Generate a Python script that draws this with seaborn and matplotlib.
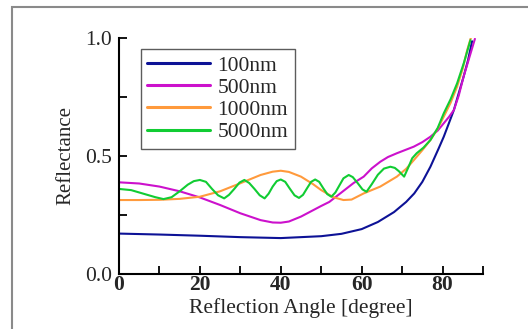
import numpy as np
import pandas as pd
import matplotlib
matplotlib.use("Agg")
import matplotlib.pyplot as plt
from matplotlib.patches import Rectangle
import seaborn as sns

# ---- data ----
x_100 = [0, 10, 20, 30, 40, 50, 55, 60, 64, 68, 71, 73, 75, 77, 79, 80.3, 81.5, 82.8, 84, 85.2, 86.3, 87.3]
r_100 = [0.171, 0.167, 0.162, 0.156, 0.152, 0.160, 0.170, 0.190, 0.220, 0.262, 0.305, 0.341, 0.390, 0.454, 0.530, 0.581, 0.635, 0.694, 0.765, 0.835, 0.905, 0.985]

x_500 = [0, 5, 10, 15, 20, 25, 30, 35, 38, 40, 42, 45, 48, 50, 52, 55, 58, 60.5, 62.5, 64.6, 66.5, 68.7, 70.8, 72.9, 75, 77, 78.8, 80.3, 81.6, 82.8, 84, 85.2, 86.6, 88]
r_500 = [0.388, 0.383, 0.370, 0.350, 0.324, 0.292, 0.257, 0.228, 0.218, 0.217, 0.222, 0.243, 0.270, 0.288, 0.305, 0.345, 0.385, 0.412, 0.447, 0.475, 0.495, 0.511, 0.525, 0.539, 0.558, 0.581, 0.607, 0.638, 0.665, 0.694, 0.755, 0.835, 0.915, 0.995]

x_1000 = [0, 5, 10, 15, 20, 25, 30, 35, 38, 40, 42, 45, 48, 50, 53, 55.5, 57.5, 60.5, 64.6, 68.7, 71, 72.9, 75, 77, 78.8, 80.3, 82, 83.6, 85, 86.1, 87]
r_1000 = [0.313, 0.313, 0.314, 0.318, 0.327, 0.350, 0.384, 0.419, 0.433, 0.437, 0.432, 0.412, 0.380, 0.355, 0.325, 0.313, 0.315, 0.341, 0.370, 0.412, 0.445, 0.482, 0.524, 0.567, 0.615, 0.666, 0.725, 0.793, 0.870, 0.948, 1.0]

x_5000 = [0, 3, 6, 9, 11, 13, 15, 17, 18.5, 20, 21.5, 23, 24.5, 26, 27.2, 28.5, 29.8, 31,
          32.2, 33.5, 34.8, 36, 37, 38, 39, 40, 41.1, 42.2, 43.4, 44.5, 45.5, 46.5, 47.5, 48.5,
          49.5, 50.5, 51.5, 52.5, 53.5, 54.5, 55.5, 56.8, 57.8, 59, 60.2, 61.2, 62.5, 64, 65.5,
          67.1, 68.2, 69.2, 70.5, 71.5, 72.5, 73.6, 75.3, 77, 78.8, 80.3, 82, 83.6, 85.3, 86.9]
r_5000 = [0.360, 0.355, 0.340, 0.325, 0.317, 0.325, 0.350, 0.378, 0.393, 0.398, 0.390, 0.360, 0.333, 0.320, 0.335, 0.360, 0.387, 0.398,
          0.385, 0.360, 0.333, 0.320, 0.340, 0.370, 0.393, 0.400, 0.390, 0.362, 0.333, 0.322, 0.335, 0.363, 0.390, 0.400,
          0.390, 0.363, 0.338, 0.327, 0.345, 0.375, 0.405, 0.419, 0.410, 0.385, 0.358, 0.348, 0.380, 0.420, 0.446,
          0.454, 0.449, 0.435, 0.412, 0.450, 0.490, 0.511, 0.535, 0.567, 0.618, 0.680, 0.740, 0.807, 0.895, 0.990]

labels = ["100nm", "500nm", "1000nm", "5000nm"]
colors = ["#0d1296", "#cc11cc", "#ff9a3c", "#11cc33"]

xs = [x_100, x_500, x_1000, x_5000]
rs = [r_100, r_500, r_1000, r_5000]
df = pd.concat([pd.DataFrame({"angle": x, "refl": r, "film": lab}) for x, r, lab in zip(xs, rs, labels)],
               ignore_index=True)

# ---- style ----
sns.set_style("ticks")
plt.rcParams["font.family"] = ["Liberation Serif", "DejaVu Serif"]

fig = plt.figure(figsize=(5.28, 3.29), dpi=100)
ax = fig.add_axes([119/528, 1-274/329, (483-119)/528, (274-37.7)/329])

sns.lineplot(data=df, x="angle", y="refl", hue="film", hue_order=labels,
             palette=colors, estimator=None, sort=False, linewidth=1.5, ax=ax)

ax.set_xlim(0, 90)
ax.set_ylim(0, 1.0)
ax.set_xticks([0, 20, 40, 60, 80])
ax.set_xticks(np.arange(0, 91, 10), minor=True)
ax.set_yticks([0.0, 0.5, 1.0])
ax.set_yticks([0.25, 0.75], minor=True)
ax.set_yticklabels(["0.0", "0.5", "1.0"])
ax.tick_params(axis="both", which="both", direction="in", width=1.3, color="black")
ax.tick_params(axis="both", which="major", length=6, labelsize=15.5)
ax.tick_params(axis="x", which="major", pad=1)
ax.tick_params(axis="y", which="major", pad=5)
ax.tick_params(axis="both", which="minor", length=6)
for lab in ax.get_xticklabels():
    lab.set_fontweight("bold")
for s in ["top", "right"]:
    ax.spines[s].set_visible(False)
for s in ["left", "bottom"]:
    ax.spines[s].set_linewidth(1.5)
    ax.spines[s].set_color("black")

ax.set_xlabel("Reflection Angle [degree]", fontsize=15.5, labelpad=2)
ax.set_ylabel("Reflectance", fontsize=15, labelpad=7)

leg = ax.legend(loc="upper left", bbox_to_anchor=((141-119)/364, 1-(49-37.7)/236.3),
                fontsize=15.5, frameon=True, fancybox=False, handlelength=2.9,
                handletextpad=0.35, borderpad=0.3, labelspacing=0.1, borderaxespad=0)
leg.get_frame().set_edgecolor("#333333")
leg.get_frame().set_linewidth(1.0)
for line in leg.get_lines():
    line.set_linewidth(2.2)

# gray outer frame
fig.patches.append(Rectangle((12/528, -0.1), 1.0, 1-7/329+0.1, transform=fig.transFigure,
                             fill=False, edgecolor="#8a8a8a", linewidth=1.5))

fig.savefig("out.png", dpi=100)
